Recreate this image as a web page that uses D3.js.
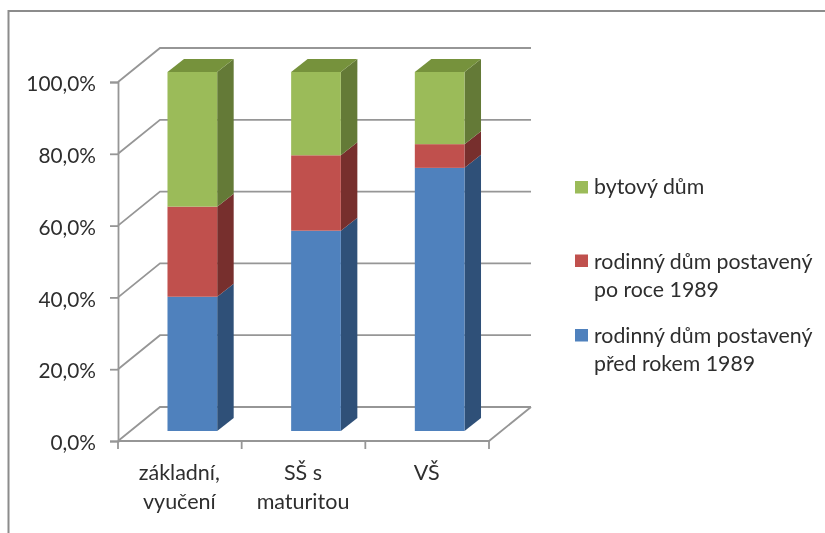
<!DOCTYPE html>
<html><head><meta charset="utf-8">
<style>
html,body{margin:0;padding:0;background:#fff;overflow:hidden}
svg{display:block;filter:blur(.45px)}
text{font-family:Lato,"Open Sans",sans-serif;fill:#2e2e2e}
</style>
<script src="https://cdn.jsdelivr.net/npm/d3@7/dist/d3.min.js"></script>
</head><body><svg id="c" width="825" height="533"></svg>
<script>
const categories = [["základní,","vyučení"],["SŠ s","maturitou"],["VŠ"]];
const seriesNames = [["rodinný dům postavený","před rokem 1989"],["rodinný dům postavený","po roce 1989"],["bytový dům"]];
const predRokem = [37.4,55.8,73.3];
const poRoce = [25.1,21.0,6.6];
const bytovy = [37.5,23.2,20.1];
const yTicks = [0,20,40,60,80,100];
const seriesValues = [predRokem,poRoce,bytovy];
const frontColors = ["#4f81bd","#c0504d","#9bbb59"];
const sideColors = ["#2f5078","#772f2d","#647a37"];
const topColor = "#76923c";
const grid = "#969696";

const svg = d3.select("#c");
const W = 825, H = 533;
const plot = {l:118,r:489,t:82,b:441,dx:42,dy:34};
const y = d3.scaleLinear().domain([0,100]).range([plot.b,plot.t]);
const x = d3.scaleBand().domain(d3.range(categories.length)).range([plot.l,plot.r]);
const barW = 49.7, barDx = 16.5, barDy = 13, shiftX = 12.5, shiftY = 10;

// outer frame
svg.append("path").attr("d",`M${W},11H8.5V${H}`).attr("fill","none").attr("stroke","#8c8c8c").attr("stroke-width",2);

// gridlines on wall and side wall
const g = svg.append("g").attr("fill","none").attr("stroke",grid).attr("stroke-width",1.8);
yTicks.forEach(t=>{
  g.append("path").attr("d",`M${plot.l},${y(t)}L${plot.l+plot.dx},${y(t)-plot.dy}H${plot.r+plot.dx}`);
});
// floor edges
g.append("path").attr("d",`M${plot.l},${plot.b}H${plot.r}L${plot.r+plot.dx},${plot.b-plot.dy}`);

// y axis
const yAxis = d3.axisLeft(y).tickValues(yTicks).tickSize(8).tickPadding(14)
  .tickFormat(d=>d3.format(".1f")(d).replace(".",",")+"%");
const ya = svg.append("g").attr("transform",`translate(${plot.l},0)`).call(yAxis);
ya.select(".domain").attr("stroke",grid).attr("stroke-width",1.8);
ya.selectAll(".tick line").attr("stroke",grid).attr("stroke-width",1.8);
ya.selectAll("text").attr("font-size",20.8).attr("font-family",null).attr("fill",null).attr("dy","0.42em");

// x ticks
const xEdges = d3.range(categories.length+1).map(i=>plot.l+i*x.step());
svg.append("g").selectAll("line").data(xEdges).join("line")
  .attr("x1",d=>d).attr("x2",d=>d).attr("y1",plot.b).attr("y2",plot.b+8)
  .attr("stroke",grid).attr("stroke-width",1.8);

// x labels
const xl = svg.append("g").attr("text-anchor","middle").attr("font-size",21.5);
categories.forEach((lines,i)=>{
  lines.forEach((s,j)=>{
    xl.append("text").attr("x",x(i)+x.bandwidth()/2-.5).attr("y",480+j*29).text(s);
  });
});

// bars
categories.forEach((c,i)=>{
  const x0 = x(i)+x.bandwidth()/2+shiftX-barW/2, x1 = x0+barW;
  let cum = 0;
  seriesValues.forEach((vals,s)=>{
    const y0 = y(cum)-shiftY, y1 = y(cum+vals[i])-shiftY;
    cum += vals[i];
    svg.append("path").attr("fill",sideColors[s])
      .attr("d",`M${x1},${y0}L${x1+barDx},${y0-barDy}V${y1-barDy}L${x1},${y1}Z`);
    svg.append("rect").attr("x",x0).attr("y",y1).attr("width",barW).attr("height",y0-y1).attr("fill",frontColors[s]);
    if(s===seriesValues.length-1){
      svg.append("path").attr("fill",topColor)
        .attr("d",`M${x0},${y1}L${x0+barDx},${y1-barDy}H${x1+barDx}L${x1},${y1}Z`);
    }
  });
});

// legend
const legendRows = [{s:2,swatch:181,base:[194]},{s:1,swatch:254.5,base:[269,297]},{s:0,swatch:329,base:[343,371]}];
const lg = svg.append("g").attr("font-size",21.3);
legendRows.forEach(r=>{
  lg.append("rect").attr("x",575).attr("y",r.swatch).attr("width",13).attr("height",12.5).attr("fill",frontColors[r.s]);
  seriesNames[r.s].forEach((t,j)=>{
    lg.append("text").attr("x",594).attr("y",r.base[j]).text(t);
  });
});
</script></body></html>
